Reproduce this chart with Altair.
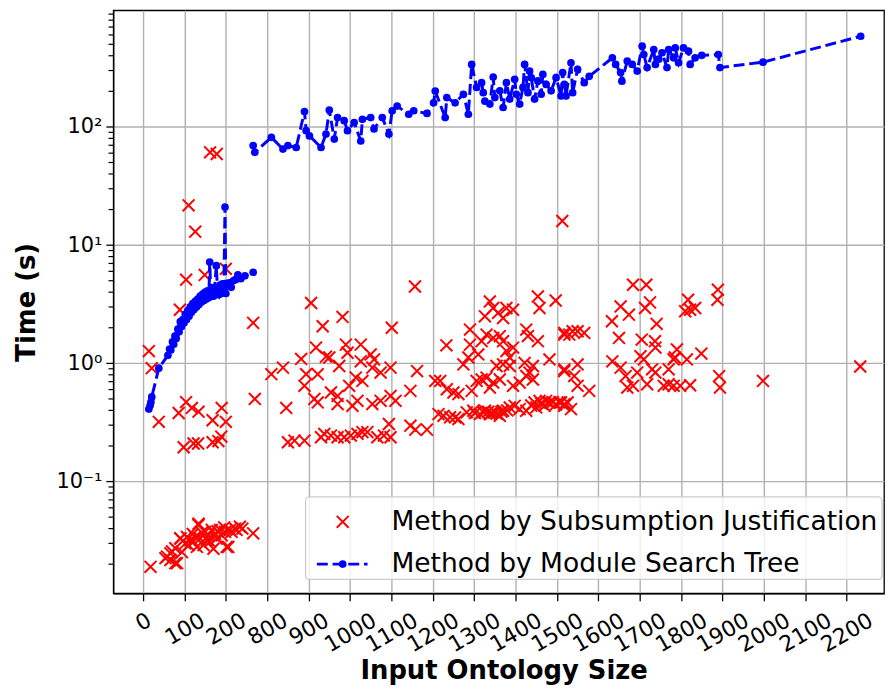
import altair as alt
import pandas as pd

# Sizes above 200 are drawn with a break: the axis jumps from 200 to 800
AXIS_BREAK = 500

# ---- Method by Subsumption Justification (red x) ----
sj_small_size = [14, 21, 38, 86, 104, 118, 134, 98, 122, 133, 168, 190, 200, 168, 182, 189,
                 270, 266, 162, 178, 110, 126, 104, 149, 200, 89,
                 18, 54, 58, 66, 66, 70, 78, 78, 82, 90, 90, 94, 102, 106, 110, 114, 120, 122,
                 126, 130, 134, 134, 138, 142, 146, 150, 154, 158, 162, 166, 170, 174, 178,
                 180, 186, 190, 196, 198, 202, 206, 210, 214, 222, 226, 234, 240, 266]
sj_small_time = [1.27, 0.91, 0.32, 0.38, 0.47, 0.42, 0.39, 0.195, 0.21, 0.21, 0.33, 0.42, 0.32,
                 0.215, 0.22, 0.24, 0.50, 2.2, 61, 59, 21.7, 13, 5.1, 5.6, 6.3, 2.84,
                 0.019, 0.0225, 0.0232, 0.0217, 0.0247, 0.0256, 0.0273, 0.0204, 0.0204, 0.0331,
                 0.033, 0.0253, 0.030, 0.034, 0.029, 0.032, 0.036, 0.031, 0.034, 0.028, 0.043,
                 0.044, 0.033, 0.037, 0.029, 0.0375, 0.032, 0.035, 0.031, 0.039, 0.027, 0.036,
                 0.033, 0.038, 0.039, 0.035, 0.041, 0.0375, 0.028, 0.028, 0.039, 0.0375, 0.040,
                 0.039, 0.0415, 0.040, 0.0365]

sj_large_size = [810, 838, 846, 850, 866, 882, 890, 890, 894, 906, 914, 918, 922, 922, 930, 934,
                 938, 942, 950, 954, 954, 970, 970, 970, 974, 982, 986, 990, 994, 998, 1002,
                 1006, 1014, 1018, 1018, 1026, 1026, 1030, 1030, 1042, 1050, 1054, 1054, 1058,
                 1066, 1074, 1074, 1082, 1094, 1098, 1098, 1098, 1101, 1110, 1146, 1146, 1157,
                 1158, 1162, 1186, 1206, 1214, 1218, 1226, 1233, 1234, 1242, 1250, 1254, 1262,
                 1262, 1274, 1282, 1286, 1290, 1290, 1294, 1298, 1302, 1306, 1310, 1314, 1318,
                 1318, 1322, 1326, 1326, 1330, 1330, 1334, 1338, 1338, 1338, 1342, 1346, 1346,
                 1346, 1350, 1354, 1354, 1358, 1362, 1362, 1362, 1366, 1370, 1370, 1370, 1370,
                 1378, 1378, 1380, 1386, 1386, 1386, 1394, 1394, 1394, 1398, 1410, 1410, 1422,
                 1426, 1426, 1426, 1430, 1434, 1438, 1442, 1442, 1446, 1450, 1454, 1454, 1458,
                 1458, 1462, 1470, 1474, 1482, 1482, 1490, 1497, 1498, 1506, 1510, 1513, 1518,
                 1518, 1518, 1518, 1518, 1518, 1526, 1530, 1534, 1538, 1542, 1550, 1550, 1550,
                 1566, 1578, 1633, 1634, 1650, 1654, 1654, 1666, 1670, 1674, 1684, 1684, 1694,
                 1702, 1705, 1710, 1713, 1716, 1718, 1725, 1730, 1737, 1738, 1738, 1741, 1758,
                 1770, 1770, 1782, 1782, 1785, 1790, 1798, 1810, 1814, 1817, 1822, 1822, 1834,
                 1849, 1888, 1889, 1892, 1894, 1998, 2233]
sj_large_time = [0.81, 0.92, 0.42, 0.215, 0.222, 1.09, 0.645, 0.222, 0.81, 3.24, 0.50, 1.36,
                 0.81, 0.467, 0.237, 2.06, 0.253, 1.14, 1.12, 0.567, 0.245, 0.53, 0.452, 0.237,
                 0.95, 2.47, 0.237, 1.44, 1.23, 0.645, 0.245, 0.437, 0.758, 0.482, 0.253, 1.44,
                 1.04, 0.71, 0.262, 0.262, 1.19, 0.92, 0.452, 1.08, 0.237, 0.835, 0.482, 0.245,
                 0.307, 0.92, 0.53, 0.237, 2.0, 0.482, 0.585, 0.297, 4.47, 0.275, 0.86, 0.275,
                 0.71, 0.372, 0.71, 0.36, 1.42, 0.604, 0.35, 0.567, 0.349, 0.55, 0.338, 0.98,
                 0.385, 1.12, 1.93, 1.44, 0.585, 0.397, 0.38, 0.71, 1.19, 0.372, 1.54, 0.73,
                 0.385, 2.5, 0.397, 1.75, 0.758, 0.39, 3.34, 0.624, 0.372, 0.38, 2.94, 1.64,
                 0.688, 0.385, 0.95, 0.375, 2.67, 1.7, 0.73, 0.36, 0.39, 2.42, 1.54, 0.98, 0.397,
                 2.94, 1.27, 0.40, 1.12, 0.95, 0.424, 2.84, 1.36, 0.645, 0.437, 0.688, 0.41, 1.01,
                 1.93, 0.782, 0.397, 1.7, 0.835, 0.44, 0.73, 0.95, 0.467, 0.424, 3.68, 1.54, 2.94,
                 0.482, 0.46, 0.437, 0.482, 1.08, 0.467, 0.47, 3.4, 0.45, 0.467, 0.467, 16, 1.81,
                 1.75, 0.89, 0.86, 0.452, 0.437, 0.467, 1.75, 0.41, 1.87, 0.78, 1.87, 0.98, 0.645,
                 1.81, 0.585, 2.27, 1.04, 1.64, 3.03, 0.92, 0.78, 0.624, 2.58, 4.62, 0.645, 0.835,
                 1.15, 1.59, 1.08, 2.94, 4.62, 0.666, 3.28, 0.89, 1.54, 1.36, 0.835, 2.16, 0.645,
                 0.89, 0.666, 1.08, 0.645, 1.12, 1.31, 0.645, 2.76, 1.08, 3.45, 2.84, 0.653, 2.94,
                 1.21, 3.45, 4.2, 0.78, 0.624, 0.71, 0.94]

# ---- Method by Module Search Tree (blue dashed line with dots) ----
mst_small_size = [14, 17, 19, 21, 38, 60, 64, 67, 71, 74, 77, 80, 84, 87, 90, 93, 96, 99, 102,
                  105, 108, 111, 114, 117, 120, 123, 126, 129, 132, 135, 138, 141, 144, 147, 150,
                  153, 156, 159, 161, 164, 167, 170, 173, 177, 180, 183, 186, 189, 192, 195, 198,
                  200, 204, 208, 213, 218, 223, 229, 236, 246, 266]
mst_small_time = [0.41, 0.44, 0.47, 0.52, 0.91, 1.17, 1.32, 1.30, 1.52, 1.45, 1.70, 1.62, 1.95,
                  1.85, 2.25, 2.05, 2.35, 2.2, 2.6, 2.35, 2.8, 2.5, 3.0, 2.7, 3.2, 2.85, 3.35, 3.0,
                  3.5, 3.15, 3.7, 3.3, 3.85, 3.4, 4.0, 3.5, 4.1, 3.6, 7.2, 3.7, 4.3, 3.7, 4.4,
                  6.7, 4.0, 3.8, 4.6, 3.9, 4.7, 4.0, 21, 3.9, 4.5, 4.8, 4.4, 5.0, 5.1, 5.6, 5.2,
                  5.5, 5.9]

mst_large_size = [766, 770, 810, 838, 850, 870, 890, 894, 902, 930, 942, 950, 962, 970, 986, 994,
                  1010, 1026, 1030, 1050, 1058, 1078, 1094, 1102, 1114, 1142, 1154, 1186, 1202,
                  1206, 1230, 1234, 1254, 1274, 1286, 1294, 1306, 1318, 1322, 1326, 1338, 1346,
                  1350, 1362, 1370, 1378, 1386, 1398, 1402, 1410, 1418, 1422, 1430, 1434, 1438,
                  1446, 1454, 1462, 1466, 1474, 1486, 1498, 1510, 1514, 1518, 1522, 1534, 1538,
                  1550, 1566, 1578, 1634, 1642, 1654, 1657, 1670, 1682, 1694, 1706, 1710, 1718,
                  1734, 1738, 1746, 1754, 1766, 1770, 1782, 1786, 1794, 1806, 1818, 1822, 1834,
                  1850, 1890, 1894, 1998, 2234]
mst_large_time = [69.5, 61, 81.6, 65, 69.5, 67, 135, 93, 84, 67, 87, 139, 79, 120, 113, 93, 109,
                  76, 116, 120, 96, 120, 87, 137, 150, 128, 137, 130, 160, 201, 120, 177, 160,
                  189, 128, 338, 216, 237, 195, 165, 156, 264, 177, 202, 146, 237, 172, 253, 189,
                  156, 216, 338, 195, 297, 261, 172, 245, 189, 278, 229, 202, 261, 183, 288, 229,
                  183, 349, 195, 307, 237, 268, 384, 338, 288, 244, 361, 338, 297, 482, 410, 318,
                  451, 338, 374, 424, 318, 451, 384, 466, 349, 466, 437, 338, 384, 403, 410, 318,
                  353, 585]

# axis tick positions (drawn units) and the minor log ticks
x_tick_pos = [0, 100, 200, 300, 400, 500, 600, 700, 800, 900, 1000, 1100, 1200, 1300, 1400,
              1500, 1600, 1700]
y_major = [0.1, 1, 10, 100]
y_minor = [m * d for d in [0.01, 0.1, 1, 10, 100] for m in range(2, 10)]
y_minor = [v for v in y_minor if 0.0114 <= v <= 969]

SJ_LABEL = "Method by Subsumption Justification"
MST_LABEL = "Method by Module Search Tree"

rows = []
for s, t in zip(sj_small_size, sj_small_time):
    rows.append({"pos": s, "time": t, "method": "SJ", "part": "small"})
for s, t in zip(sj_large_size, sj_large_time):
    rows.append({"pos": s - AXIS_BREAK, "time": t, "method": "SJ", "part": "large"})
for s, t in zip(mst_small_size, mst_small_time):
    rows.append({"pos": s, "time": t, "method": "MST", "part": "small"})
for s, t in zip(mst_large_size, mst_large_time):
    rows.append({"pos": s - AXIS_BREAK, "time": t, "method": "MST", "part": "large"})
df = pd.DataFrame(rows)

FONT = "DejaVu Sans"
W, H = 776, 587
X_CROSS = "M-1,-1L1,1M1,-1L-1,1"

xscale = alt.Scale(domain=[-72, 1790.4], nice=False, zero=False)
yscale = alt.Scale(type="log", domain=[0.01134, 969.5], nice=False)

xaxis = alt.Axis(
    values=x_tick_pos,
    labelExpr="format(datum.value <= 200 ? datum.value : datum.value + 500, 'd')",
    labelAngle=330, labelAlign="center", labelBaseline="middle",
    labelPadding={"condition": [{"test": "datum.value == 0", "value": 21},
                                {"test": "datum.value < 500", "value": 28.1}],
                  "value": 31.7},
    labelFontSize=22, labelOverlap=False, labelFlush=False,
    tickSize=7.5, grid=True,
    title="Input Ontology Size", titleFontSize=26, titleFontWeight="bold",
    titleBaseline="alphabetic", titleY=86, titleX=393, titleAlign="center",
)
yaxis = alt.Axis(
    values=y_major,
    labelExpr="datum.value == 100 ? '10²' : datum.value == 10 ? '10¹' : datum.value == 1 ? '10⁰' : '10⁻¹'",
    labelFontSize=21, labelPadding=4, tickSize=7.5, grid=True, labelOverlap=False,
    title="Time (s)", titleFontSize=26, titleFontWeight="bold",
    titleAngle=270, titleAlign="center", titleBaseline="alphabetic", titleX=-79, titleY=H / 2,
)

sj = df[df.method == "SJ"]
mst = df[df.method == "MST"]

red = alt.Chart(sj).mark_point(
    shape=X_CROSS, filled=False, color="red", strokeWidth=2, size=144, opacity=1, clip=True
).encode(
    x=alt.X("pos:Q", scale=xscale, axis=xaxis),
    y=alt.Y("time:Q", scale=yscale, axis=yaxis),
)

blue_line = alt.Chart(mst).mark_line(
    color="blue", strokeWidth=3, strokeDash=[11, 4.8], clip=True
).encode(
    x=alt.X("pos:Q", scale=xscale),
    y=alt.Y("time:Q", scale=yscale),
    detail="part:N",
)
blue_pts = alt.Chart(mst).mark_point(
    shape="circle", filled=True, color="blue", size=60, opacity=1, clip=True
).encode(
    x=alt.X("pos:Q", scale=xscale),
    y=alt.Y("time:Q", scale=yscale),
)

minor = alt.Chart(pd.DataFrame({"time": y_minor})).mark_rule(
    color="black", strokeWidth=1.2
).encode(
    y=alt.Y("time:Q", scale=yscale),
    x=alt.value(-4.8), x2=alt.value(0),
)

# legend (drawn inside the plot, lower right)
one = pd.DataFrame({"k": [0]})
leg_box = alt.Chart(one).mark_rect(
    fill="white", fillOpacity=0.8, stroke="#cccccc", strokeWidth=1.3, cornerRadius=4
).encode(x=alt.value(193.6), x2=alt.value(774), y=alt.value(490), y2=alt.value(573))
leg_x = alt.Chart(one).mark_point(
    shape=X_CROSS, filled=False, color="red", strokeWidth=2, size=144, opacity=1
).encode(x=alt.value(231), y=alt.value(515))
leg_line = alt.Chart(one).mark_rule(
    color="blue", strokeWidth=3, strokeDash=[11, 4.8]
).encode(x=alt.value(205), x2=alt.value(256), y=alt.value(557.6))
leg_dot = alt.Chart(one).mark_point(
    shape="circle", filled=True, color="blue", size=60, opacity=1
).encode(x=alt.value(231), y=alt.value(557.6))
leg_t1 = alt.Chart(one).mark_text(
    text=SJ_LABEL, align="left", baseline="middle", font=FONT, fontSize=26.7, color="black"
).encode(x=alt.value(280), y=alt.value(515))
leg_t2 = alt.Chart(one).mark_text(
    text=MST_LABEL, align="left", baseline="middle", font=FONT, fontSize=26.7, color="black"
).encode(x=alt.value(280), y=alt.value(557.6))

chart = alt.layer(
    red, blue_line, blue_pts, minor, leg_box, leg_x, leg_line, leg_dot, leg_t1, leg_t2
).properties(
    width=W, height=H,
    autosize=alt.AutoSizeParams(type="none"),
    padding={"left": 106, "top": 0, "right": 1, "bottom": 92},
).configure_view(
    stroke="black", strokeWidth=1.3
).configure_axis(
    labelFont=FONT, titleFont=FONT, labelColor="black", titleColor="black",
    domainColor="black", domainWidth=1.3, tickColor="black", tickWidth=1.3,
    gridColor="#b0b0b0", gridWidth=1.4,
)

chart.save("out.html", embed_options={"renderer": "svg", "actions": False})
